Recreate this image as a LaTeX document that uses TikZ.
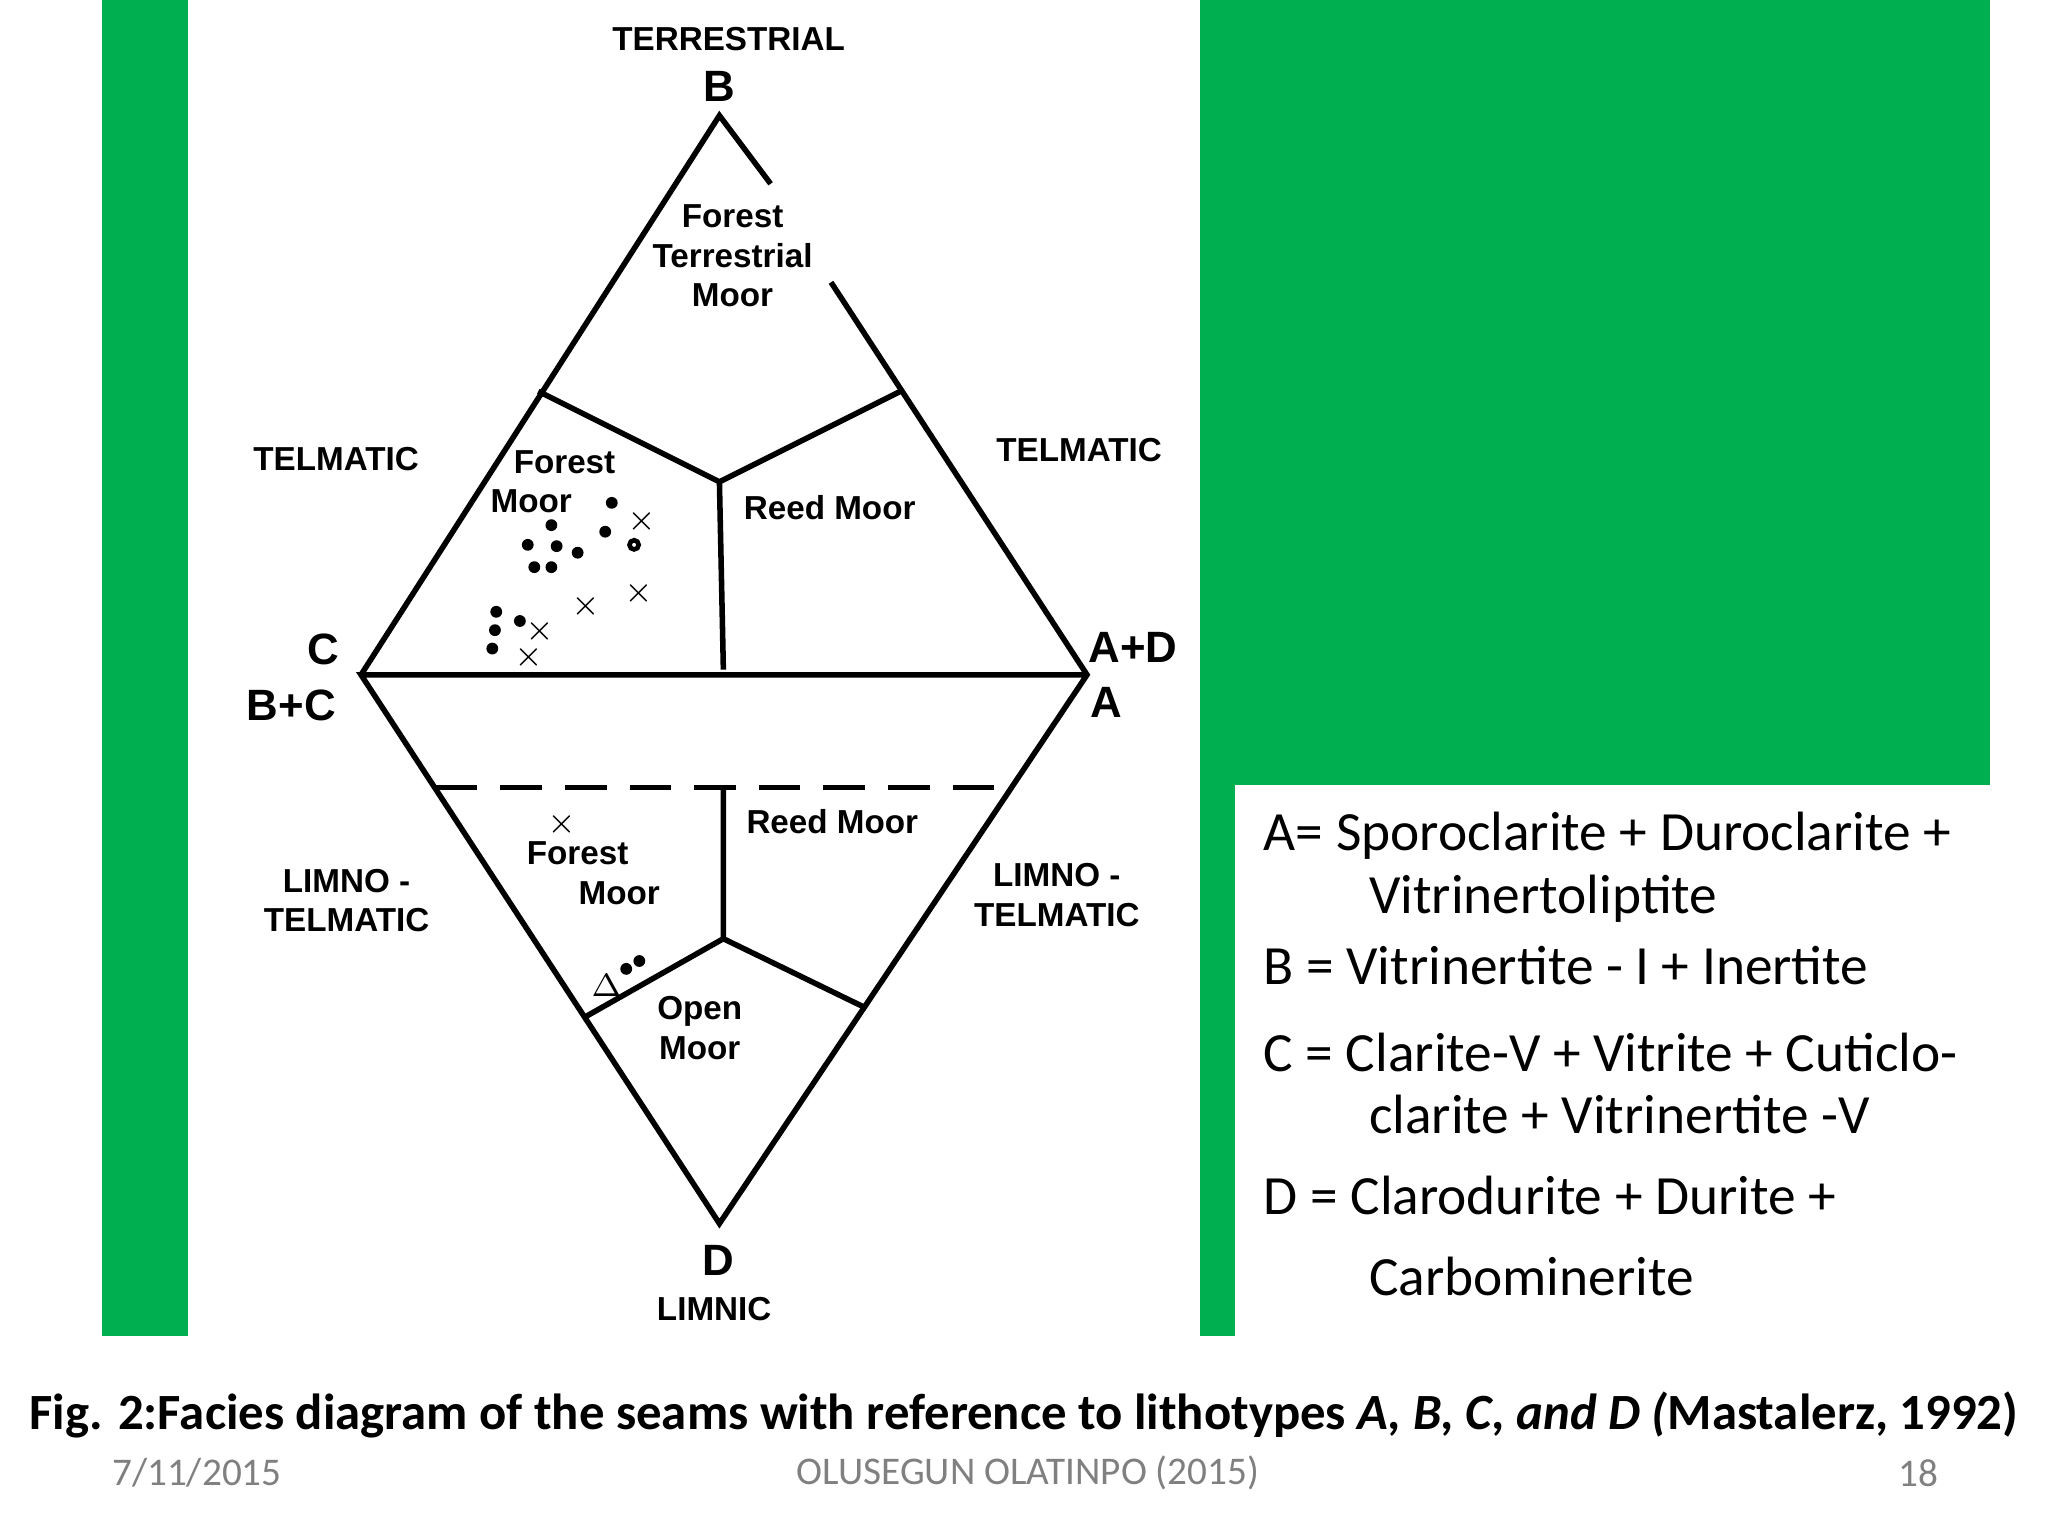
\documentclass[tikz,border=0pt]{standalone}
\usepackage{fontspec}
\setmainfont{Carlito}
\newfontfamily\dia{Liberation Sans}
\definecolor{grn}{RGB}{0,176,80}
\begin{document}
\begin{tikzpicture}[x=0.1mm,y=-0.1mm,
  lab/.style={font=\dia\bfseries\fontsize{7.2}{8.6}\selectfont,align=center,inner sep=1pt},
  big/.style={font=\dia\bfseries\fontsize{9.5}{11}\selectfont,inner sep=1pt},
  small/.style={font=\dia\bfseries\fontsize{7}{8}\selectfont,inner sep=0pt},
  leg/.style={font=\fontsize{12}{13.5}\selectfont,anchor=north west,align=left,inner sep=0pt},
  ln/.style={line width=1.2pt}]
\useasboundingbox (0,0) rectangle (1560,1170);
\fill[grn] (78,0) rectangle (143,1018);
\fill[grn] (914,0) rectangle (1516,598);
\fill[grn] (914,598) rectangle (941,1018);
\coordinate (B) at (548,88); \coordinate (C) at (275,514);
\coordinate (A) at (828,514); \coordinate (D) at (548,932);
\coordinate (p1) at (410,298); \coordinate (p2) at (686,298);
\coordinate (m) at (548,367); \coordinate (mb) at (551,510);
\coordinate (dl) at (332,600); \coordinate (dr) at (770,600);
\coordinate (q) at (551,600); \coordinate (o) at (551,715);
\coordinate (o1) at (445,775); \coordinate (o2) at (660,768);
\coordinate (g1) at (587,140); \coordinate (g2) at (633,215);
\draw[ln] (C) -- (B) -- (g1) (g2) -- (A) -- (D) -- (C) -- (A);
\draw[ln] (p1) -- (m) -- (p2) (m) -- (mb);
\draw[ln,dash pattern=on 9pt off 5pt] (dl) -- (dr);
\draw[ln] (q) -- (o) (o1) -- (o) -- (o2);
\node[lab] (t) at (555,30) {TERRESTRIAL};
\node[big] (bl) at (548,66) {B};
\node[lab] (ft) at (558,195) {Forest\\Terrestrial\\Moor};
\node[lab] (tl) at (256,350) {TELMATIC};
\node[lab] (tr) at (822,343) {TELMATIC};
\node[lab] (fm) at (430,367) {Forest\\Moor\hspace*{2em}};
\node[lab] (rm) at (632,387) {Reed Moor};
\node[big] (cl) at (246,495) {C};
\node[big] (bc) at (222,537) {B+C};
\node[big] (ad) at (863,493) {A+D};
\node[big] (al) at (843,535) {A};
\node[lab] (lt) at (264,686) {LIMNO -\\TELMATIC};
\node[lab] (rt) at (805,682) {LIMNO -\\TELMATIC};
\node[lab] (fm2) at (440,665) {Forest\\\hspace*{2.5em}Moor};
\node[lab] (rm2) at (634,626) {Reed Moor};
\node[lab] (om) at (533,783) {Open\\Moor};
\node[big] (dlab) at (547,960) {D};
\node[lab] (lim) at (544,997) {LIMNIC};
\foreach \x/\y in {466/383, 420/400, 402/415, 424/416, 440/421, 461/405, 407/432, 420/432, 378/466, 396/473, 377/480, 375/494, 487/732, 477/738}
  \fill (\x,\y) circle (4.5);
\foreach \x/\y in {489/397, 487/452, 446/462, 411/481, 403/501, 428/628}
  \node[small] at (\x,\y) {$\times$};
\draw[line width=1pt] (483,415) circle (3.5);
\node[small] at (462,751) {$\Delta$};
\node[leg] (la) at (962,618) {A= Sporoclarite + Duroclarite +\\\hspace*{1.9em}Vitrinertoliptite};
\node[leg] (lb) at (962,720) {B = Vitrinertite - I + Inertite};
\node[leg] (lc) at (962,786) {C = Clarite-V + Vitrite + Cuticlo-\\\hspace*{1.9em}clarite + Vitrinertite -V};
\node[leg] (ld) at (962,895) {D = Clarodurite + Durite +\\[4pt]\hspace*{1.9em}Carbominerite};
\node[font=\bfseries\fontsize{11}{13}\selectfont] (cap) at (780,1078) {Fig. 2:Facies diagram of the seams with reference to lithotypes \textit{A, B, C, and D (}Mastalerz, 1992)};
\node[font=\fontsize{8.5}{10}\selectfont,text=gray] (f1) at (150,1122) {7/11/2015};
\node[font=\fontsize{8.5}{10}\selectfont,text=gray] (f2) at (783,1122) {OLUSEGUN OLATINPO (2015)};
\node[font=\fontsize{8.5}{10}\selectfont,text=gray] (f3) at (1461,1122) {18};
\end{tikzpicture}
\end{document}
